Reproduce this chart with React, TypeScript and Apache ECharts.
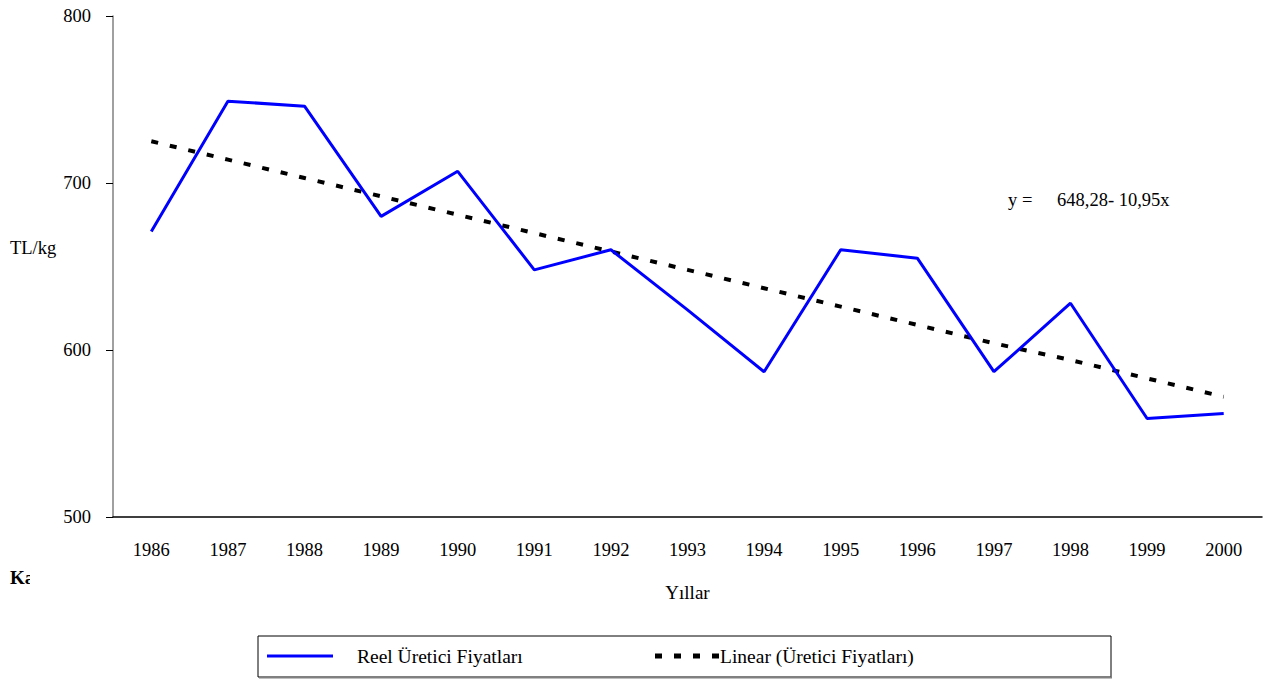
import React, { useEffect, useRef } from "react";
import * as echarts from "echarts";

const years = ["1986","1987","1988","1989","1990","1991","1992","1993","1994","1995","1996","1997","1998","1999","2000"];
const realPrices = [671, 749, 746, 680, 707, 648, 660, 624, 587, 660, 655, 587, 628, 559, 562];
const trendPrices = [725, 714, 703, 692, 681, 670, 659, 648, 637, 626, 615, 604, 594, 583, 572];
const yTicks = { min: 500, max: 800, interval: 100 };
const realName = "Reel Üretici Fiyatları";
const trendName = "Linear (Üretici Fiyatları)";
const FONT = "'Liberation Serif', 'Times New Roman', serif";

export default function App() {
  const ref = useRef<HTMLDivElement>(null);
  useEffect(() => {
    if (!ref.current) return;
    const chart = echarts.init(ref.current, undefined, { renderer: "svg" });
    chart.setOption({
      animation: false,
      backgroundColor: "#ffffff",
      textStyle: { fontFamily: FONT, color: "#000" },
      grid: { left: 113, right: 11, top: 16, bottom: 162, containLabel: false },
      xAxis: {
        type: "category",
        data: years,
        boundaryGap: true,
        name: "Yıllar",
        nameLocation: "middle",
        nameGap: 66,
        nameTextStyle: { fontFamily: FONT, fontSize: 19, color: "#000" },
        axisLine: { lineStyle: { color: "#000", width: 1.5 } },
        axisTick: { show: false },
        axisLabel: { fontFamily: FONT, fontSize: 18.5, color: "#000", margin: 23 },
        splitLine: { show: false },
      },
      yAxis: {
        type: "value",
        min: yTicks.min,
        max: yTicks.max,
        interval: yTicks.interval,
        axisLine: { show: true, lineStyle: { color: "#808080", width: 1.5 } },
        axisTick: { show: true, length: 7, lineStyle: { color: "#000" } },
        axisLabel: { fontFamily: FONT, fontSize: 18.5, color: "#000", margin: 22 },
        splitLine: { show: false },
      },
      legend: [
        {
          data: [{ name: realName, icon: "path://M0 0H66V3H0Z" }],
          left: 267,
          top: 646,
          padding: 0,
          itemWidth: 66,
          itemHeight: 3,
          itemStyle: { borderWidth: 0, borderColor: "transparent" },
          textStyle: { fontFamily: FONT, fontSize: 19.5, color: "#000", padding: [0, 0, 0, 19] },
        },
        {
          data: [{ name: trendName, icon: "path://M0 0h7v5h-7z M19 0h7v5h-7z M38 0h7v5h-7z M57 0h7v5h-7z" }],
          left: 655,
          top: 646,
          padding: 0,
          itemWidth: 64,
          itemHeight: 5,
          itemStyle: { borderWidth: 0, borderColor: "transparent" },
          textStyle: { fontFamily: FONT, fontSize: 19.5, color: "#000", padding: [0, 0, 0, -4] },
        },
      ],
      series: [
        {
          name: realName,
          type: "line",
          data: realPrices,
          symbol: "none",
          lineStyle: { color: "#0000FF", width: 3 },
          itemStyle: { color: "#0000FF" },
          z: 3,
        },
        {
          name: trendName,
          type: "line",
          data: trendPrices,
          symbol: "none",
          lineStyle: { color: "#000", width: 4, type: [7, 12] },
          itemStyle: { color: "#000" },
          z: 2,
        },
      ],
      graphic: [
        {
          type: "rect",
          z: -1,
          shape: { x: 258, y: 636, width: 853, height: 41 },
          style: { fill: "#fff", stroke: "#000", lineWidth: 1 },
        },
        {
          type: "line",
          shape: { x1: 259, y1: 677.5, x2: 1112, y2: 677.5 },
          style: { stroke: "#808080", lineWidth: 2 },
        },
        {
          type: "text",
          x: 10,
          y: 248,
          style: { text: "TL/kg", font: `18.5px ${FONT}`, fill: "#000", textVerticalAlign: "middle" },
        },
        {
          type: "text",
          x: 1008,
          y: 200,
          style: { text: "y =", font: `18.5px ${FONT}`, fill: "#000", textVerticalAlign: "middle" },
        },
        {
          type: "text",
          x: 1057,
          y: 200,
          style: { text: "648,28- 10,95x", font: `18.5px ${FONT}`, fill: "#000", textVerticalAlign: "middle" },
        },
        {
          type: "text",
          x: 10,
          y: 577,
          style: { text: "Kaynak", font: `bold 19px ${FONT}`, fill: "#000", textVerticalAlign: "middle" },
        },
        {
          type: "rect",
          shape: { x: 30, y: 562, width: 70, height: 30 },
          style: { fill: "#fff" },
        },
      ],
    });
    return () => chart.dispose();
  }, []);
  return (
    <div
      ref={ref}
      style={{ position: "absolute", left: 0, top: 0, width: 1273, height: 679 }}
    />
  );
}
